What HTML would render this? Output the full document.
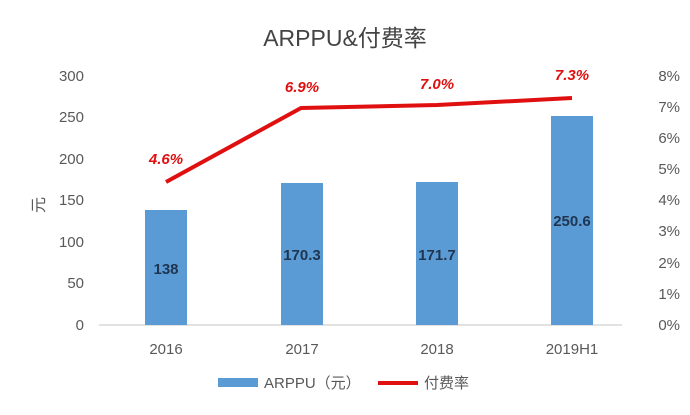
<!DOCTYPE html>
<html><head><meta charset="utf-8"><style>
body{margin:0;background:#fff;}
svg{display:block;font-family:"Liberation Sans","Noto Sans CJK SC",sans-serif;}
</style></head><body>
<svg width="690" height="415" viewBox="0 0 690 415">
<rect width="690" height="415" fill="#fff"/>
<text x="345" y="46" font-size="23" fill="#444" text-anchor="middle">ARPPU&amp;付费率</text>
<g font-size="15" fill="#595959" text-anchor="end">
<text x="84" y="81">300</text><text x="84" y="122">250</text><text x="84" y="164">200</text>
<text x="84" y="205">150</text><text x="84" y="247">100</text><text x="84" y="288">50</text><text x="84" y="330">0</text>
</g>
<g font-size="15" fill="#595959" text-anchor="end">
<text x="680" y="81">8%</text><text x="680" y="112">7%</text><text x="680" y="143">6%</text>
<text x="680" y="174">5%</text><text x="680" y="205">4%</text><text x="680" y="236">3%</text>
<text x="680" y="268">2%</text><text x="680" y="299">1%</text><text x="680" y="330">0%</text>
</g>
<text x="44" y="205" font-size="16" fill="#595959" transform="rotate(-90 44 205)" text-anchor="middle">元</text>
<line x1="99" y1="325" x2="622" y2="325" stroke="#d9d9d9" stroke-width="1.5"/>
<g fill="#5b9bd5">
<rect x="145" y="210" width="42" height="115"/>
<rect x="281" y="183" width="42" height="142"/>
<rect x="416" y="182" width="42" height="143"/>
<rect x="551" y="116" width="42" height="209"/>
</g>
<g font-size="15" font-weight="bold" fill="#1f3550" text-anchor="middle">
<text x="166" y="274">138</text><text x="302" y="260">170.3</text>
<text x="437" y="260">171.7</text><text x="572" y="226">250.6</text>
</g>
<polyline points="166,182 301,108 437,105 572,98" fill="none" stroke="#e01010" stroke-width="4" stroke-linejoin="round"/>
<g font-size="15" font-weight="bold" font-style="italic" fill="#e01010" text-anchor="middle">
<text x="166" y="164">4.6%</text><text x="302" y="92">6.9%</text>
<text x="437" y="89">7.0%</text><text x="572" y="80">7.3%</text>
</g>
<g font-size="15" fill="#595959" text-anchor="middle">
<text x="166" y="354">2016</text><text x="302" y="354">2017</text>
<text x="437" y="354">2018</text><text x="572" y="354">2019H1</text>
</g>
<rect x="218" y="378" width="40" height="9" fill="#5b9bd5"/>
<text x="264" y="388" font-size="15" fill="#595959">ARPPU（元）</text>
<line x1="378" y1="383" x2="418" y2="383" stroke="#e01010" stroke-width="4"/>
<text x="424" y="388" font-size="15" fill="#595959">付费率</text>
</svg>
</body></html>
